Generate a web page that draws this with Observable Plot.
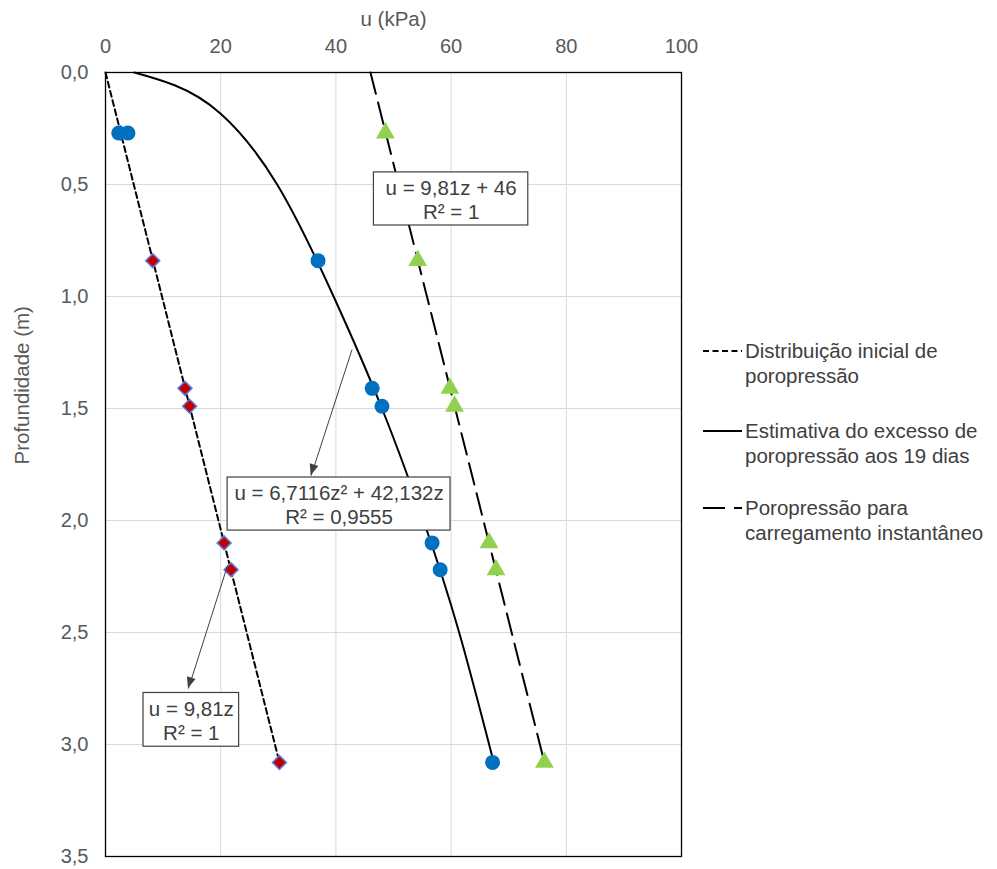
<!DOCTYPE html>
<html><head><meta charset="utf-8">
<script src="https://cdn.jsdelivr.net/npm/d3@7"></script>
<script src="https://cdn.jsdelivr.net/npm/@observablehq/plot@0.6"></script>
<style>body{margin:0;background:#fff} #chart{position:relative;width:997px;height:869px}</style>
</head><body><div id="chart"></div>
<script>
// ---- data ----
const depth = [0.27, 0.84, 1.41, 1.49, 2.10, 2.22, 3.08];
const uInitial = [2.6, 8.2, 13.8, 14.6, 20.6, 21.8, 30.2];
const uInstant = [48.6, 54.2, 59.8, 60.6, 66.6, 67.8, 76.2];
const measDepth = [0.27, 0.27, 0.84, 1.41, 1.49, 2.10, 2.22, 3.08];
const uMeasured = [2.3, 3.9, 36.9, 46.3, 48.0, 56.7, 58.1, 67.2];
const initLineU = [0, 30.2], initLineZ = [0, 3.08];
const instLineU = [46, 76.2], instLineZ = [0, 3.08];
const curveU = [5.0, 12.0, 20.0, 29.8, 39.6, 48.0, 55.2, 61.4, 66.6, 67.3];
const curveZ = [0.0, 0.057, 0.184, 0.5, 1.0, 1.5, 2.0, 2.5, 3.0, 3.06];
const uTicks = [0, 20, 40, 60, 80, 100];
const zTicks = [0, 0.5, 1, 1.5, 2, 2.5, 3, 3.5];
const zTickLabels = ["0,0", "0,5", "1,0", "1,5", "2,0", "2,5", "3,0", "3,5"];
const xTitle = "u (kPa)";
const yTitle = "Profundidade (m)";
const boxLabels = ["u = 9,81z + 46\nR² = 1", "u = 6,7116z² + 42,132z\nR² = 0,9555", "u = 9,81z\nR² = 1"];
const boxU1 = [46.6, 21.2, 6.6], boxU2 = [73.4, 59.9, 23.2];
const boxZ1 = [0.446, 1.808, 2.77], boxZ2 = [0.683, 2.045, 3.01];
const arrowU1 = [42.8, 21.2], arrowZ1 = [1.237, 2.20];
const arrowU2 = [35.7, 14.4], arrowZ2 = [1.80, 2.75];
const legendLabels = [["Distribuição inicial de", "poropressão"], ["Estimativa do excesso de", "poropressão aos 19 dias"], ["Poropressão para", "carregamento instantâneo"]];

// ---- tables ----
const initialPts = depth.map((z, i) => ({u: uInitial[i], z}));
const instPts = depth.map((z, i) => ({u: uInstant[i], z}));
const measPts = measDepth.map((z, i) => ({u: uMeasured[i], z}));
const initLine = initLineU.map((u, i) => ({u, z: initLineZ[i]}));
const instLine = instLineU.map((u, i) => ({u, z: instLineZ[i]}));
const curve = curveU.map((u, i) => ({u, z: curveZ[i]}));
const boxes = boxLabels.map((label, i) => ({label, x1: boxU1[i], x2: boxU2[i], y1: boxZ1[i], y2: boxZ2[i], cx: (boxU1[i] + boxU2[i]) / 2, cy: (boxZ1[i] + boxZ2[i]) / 2}));
const arrows = arrowU1.map((u, i) => ({x1: u, y1: arrowZ1[i], x2: arrowU2[i], y2: arrowZ2[i]}));

const font = "'Liberation Sans', Arial, sans-serif";
const plot = Plot.plot({
  width: 997, height: 869,
  marginLeft: 105, marginRight: 316, marginTop: 72, marginBottom: 13,
  style: {fontFamily: font, fontSize: "20px", color: "#595959", background: "#fff", overflow: "visible"},
  x: {domain: [0, 100], axis: "top", ticks: uTicks, tickSize: 0, tickPadding: 20, label: null, tickFormat: d => String(d)},
  y: {domain: [0, 3.5], reverse: true, ticks: zTicks, tickSize: 0, tickPadding: 17, label: null, tickFormat: d => zTickLabels[zTicks.indexOf(d)]},
  marks: [
    Plot.ruleX(uTicks.filter(d => d > 0 && d < 100), {stroke: "#d9d9d9", strokeWidth: 1}),
    Plot.ruleY(zTicks.filter(d => d > 0 && d < 3.5), {stroke: "#d9d9d9", strokeWidth: 1}),
    Plot.frame({stroke: "#000", strokeWidth: 1.3}),
    Plot.line(initLine, {x: "u", y: "z", stroke: "#000", strokeWidth: 2, strokeDasharray: "6,3.5"}),
    Plot.line(curve, {x: "u", y: "z", curve: "natural", stroke: "#000", strokeWidth: 2}),
    Plot.line(instLine, {x: "u", y: "z", stroke: "#000", strokeWidth: 2, strokeDasharray: "22,9"}),
    Plot.dot(initialPts, {x: "u", y: "z", symbol: "diamond2", r: 6.3, fill: "#c00000", stroke: "#5b7fd6", strokeWidth: 1.5}),
    Plot.dot(measPts, {x: "u", y: "z", r: 7.5, fill: "#0070c0"}),
    Plot.dot(instPts, {x: "u", y: "z", symbol: "triangle", r: 7, fill: "#92d050"}),
    Plot.rect(boxes, {x1: "x1", x2: "x2", y1: "y1", y2: "y2", fill: "#fff", stroke: "#404040", strokeWidth: 1.2}),
    Plot.text(boxes, {x: "cx", y: "cy", text: "label", lineHeight: 1.17, fill: "#404040", fontSize: 20.5}),
    Plot.link(arrows, {x1: "x1", y1: "y1", x2: "x2", y2: "y2", stroke: "#404040", strokeWidth: 1}),
    Plot.text([xTitle], {frameAnchor: "top", dy: -61, fill: "#595959", fontSize: 20.5}),
    Plot.text([yTitle], {frameAnchor: "left", rotate: -90, dx: -83, fill: "#595959", fontSize: 20.5})
  ]
});
document.getElementById("chart").appendChild(plot);

const svg = d3.select(plot);
// filled arrow heads, placed through the plot's own scales
const sx = plot.scale("x"), sy = plot.scale("y");
arrows.forEach(a => {
  const x1 = sx.apply(a.x1), y1 = sy.apply(a.y1), x2 = sx.apply(a.x2), y2 = sy.apply(a.y2);
  const ang = Math.atan2(y2 - y1, x2 - x1);
  const L = 11, W = 4.5;
  const bx = x2 - L * Math.cos(ang), by = y2 - L * Math.sin(ang);
  const px = -Math.sin(ang) * W, py = Math.cos(ang) * W;
  svg.append("path")
    .attr("d", `M${x2},${y2}L${bx + px},${by + py}L${bx - px},${by - py}Z`)
    .attr("fill", "#404040");
});

// ---- legend ----
const lg = svg.append("g").attr("font-family", font).attr("font-size", 20.5).attr("fill", "#404040").attr("text-anchor", "start");
const rowsY = [351, 431, 508];
const dashes = ["6,3.5", null, "22,9"];
legendLabels.forEach((lines, i) => {
  const y = rowsY[i];
  const ln = lg.append("line").attr("x1", 703).attr("x2", 742).attr("y1", y).attr("y2", y)
    .attr("stroke", "#000").attr("stroke-width", 2);
  if (dashes[i]) ln.attr("stroke-dasharray", dashes[i]);
  lines.forEach((t, j) => {
    lg.append("text").attr("x", 745).attr("y", y + j * 24.5).attr("dy", "0.35em").text(t);
  });
});
</script>
</body></html>
